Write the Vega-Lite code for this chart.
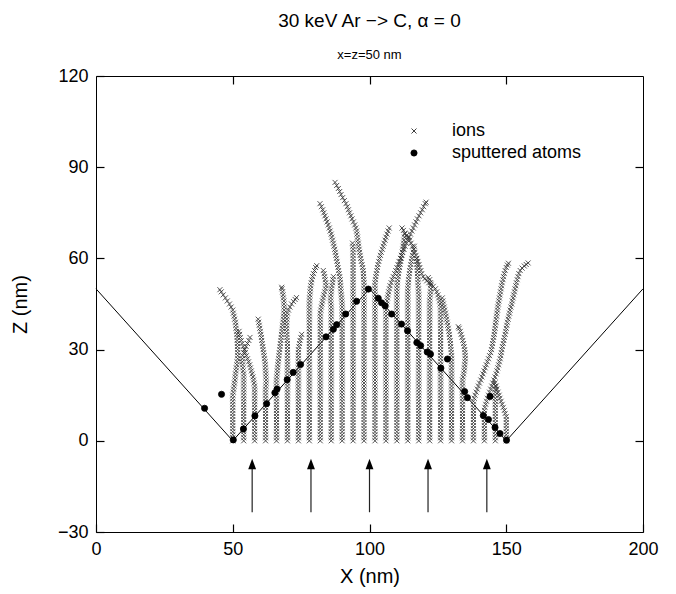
{
"$schema":"https://vega.github.io/schema/vega-lite/v6.json",
"width":547,"height":456,
"autosize":{"type":"none"},
"padding":{"left":96,"top":76,"right":33,"bottom":62},
"background":"white",
"config":{"view":{"stroke":"black","strokeWidth":1},"font":"Liberation Sans"},
"title":{"text":"30 keV Ar −> C, α = 0","subtitle":"x=z=50 nm","fontSize":19,"subtitleFontSize":13,"font":"Liberation Sans","subtitleFont":"Liberation Sans","fontWeight":"normal","color":"black","subtitleColor":"black","anchor":"middle","offset":5,"subtitlePadding":18},
"datasets":{
"surface":[{"x":0,"z":50},{"x":50,"z":0},{"x":100,"z":50},{"x":150,"z":0},{"x":200,"z":50}],
"arrows":[{"x":57.1,"z1":-23.5,"z2":-9,"zh":-7.6},{"x":78.6,"z1":-23.5,"z2":-9,"zh":-7.6},{"x":100,"z1":-23.5,"z2":-9,"zh":-7.6},{"x":121.4,"z1":-23.5,"z2":-9,"zh":-7.6},{"x":142.9,"z1":-23.5,"z2":-9,"zh":-7.6}],
"atoms":[{"x":39.7,"z":10.7},{"x":45.9,"z":15.3},{"x":50.2,"z":0.3},{"x":53.9,"z":3.9},{"x":58.1,"z":8.2},{"x":62.4,"z":12.2},{"x":65.4,"z":15.8},{"x":66.2,"z":17},{"x":69.9,"z":20.1},{"x":72.1,"z":22.5},{"x":74.8,"z":25.1},{"x":84.1,"z":34.2},{"x":86.8,"z":36.7},{"x":88,"z":38.2},{"x":91.3,"z":41.7},{"x":95.3,"z":45.9},{"x":99.6,"z":49.9},{"x":103.2,"z":46.9},{"x":104.4,"z":45.4},{"x":105.7,"z":44.4},{"x":108.1,"z":41.7},{"x":111.7,"z":38.4},{"x":113.9,"z":36.2},{"x":117.3,"z":32.3},{"x":118.7,"z":31.3},{"x":121.1,"z":29.2},{"x":122.3,"z":28.5},{"x":128.5,"z":26.9},{"x":126.1,"z":23.9},{"x":134.8,"z":16.2},{"x":135.8,"z":14.2},{"x":144.1,"z":14.6},{"x":141.6,"z":8.3},{"x":143.5,"z":7},{"x":145.9,"z":4.4},{"x":147.7,"z":2.4},{"x":150.1,"z":0.2}],
"ions":[
{"x":50,"z":0},{"x":50,"z":1},{"x":50,"z":2},{"x":50,"z":3},{"x":50,"z":4},{"x":50,"z":5},{"x":50,"z":6},{"x":50,"z":7},{"x":50,"z":8},{"x":50,"z":9},{"x":50,"z":10},{"x":50,"z":11},{"x":50,"z":12},{"x":50,"z":13},{"x":50,"z":14},{"x":50,"z":15},{"x":50.2,"z":16},{"x":50.3,"z":17},{"x":50.5,"z":18},{"x":50.6,"z":19},{"x":50.8,"z":20},{"x":50.9,"z":21},{"x":51,"z":22},{"x":51.2,"z":23},{"x":51.3,"z":24},{"x":51.5,"z":25},{"x":51.6,"z":26},{"x":51.8,"z":27},{"x":51.8,"z":28},{"x":51.8,"z":29},{"x":51.8,"z":30},{"x":51.7,"z":31},{"x":51.7,"z":32},{"x":51.6,"z":33},{"x":51.6,"z":34},{"x":51.5,"z":35},{"x":51.4,"z":36},{"x":51.2,"z":37},{"x":51.1,"z":38},{"x":51,"z":39},{"x":50.7,"z":40},{"x":50.5,"z":41},{"x":50.2,"z":42},{"x":50,"z":43},{"x":49.4,"z":44},{"x":48.8,"z":45},{"x":48,"z":46},{"x":47.3,"z":47},{"x":46.5,"z":48},{"x":45.8,"z":49},{"x":45.3,"z":49.7},
{"x":54,"z":0},{"x":54,"z":1},{"x":54,"z":2},{"x":54,"z":3},{"x":54,"z":4},{"x":54,"z":5},{"x":54,"z":6},{"x":54,"z":7},{"x":54,"z":8},{"x":54,"z":9},{"x":54,"z":10},{"x":54,"z":11},{"x":54,"z":12},{"x":54,"z":13},{"x":54,"z":14},{"x":54,"z":15},{"x":54,"z":16},{"x":54,"z":17},{"x":54,"z":18},{"x":54,"z":19},{"x":54,"z":20},{"x":54,"z":21},{"x":54,"z":22},{"x":53.8,"z":23},{"x":53.7,"z":24},{"x":53.6,"z":25},{"x":53.5,"z":26},{"x":53.5,"z":27},{"x":53.6,"z":28},{"x":54,"z":29},{"x":54.4,"z":30},{"x":54.9,"z":31},{"x":55.4,"z":32},{"x":55.9,"z":33},{"x":56.3,"z":34},
{"x":58,"z":0},{"x":58,"z":1},{"x":58,"z":2},{"x":58,"z":3},{"x":58,"z":4},{"x":58,"z":5},{"x":58,"z":6},{"x":58,"z":7},{"x":58,"z":8},{"x":58,"z":9},{"x":58,"z":10},{"x":58,"z":11},{"x":58,"z":12},{"x":58,"z":13},{"x":58,"z":14},{"x":58,"z":15},{"x":58,"z":16},{"x":58,"z":17},{"x":58,"z":18},{"x":57.8,"z":19},{"x":57.6,"z":20},{"x":57.4,"z":21},{"x":57.1,"z":22},{"x":56.8,"z":23},{"x":56.5,"z":24},{"x":56.2,"z":25},{"x":55.8,"z":26},{"x":55.4,"z":27},{"x":55,"z":28},{"x":54.6,"z":29},{"x":54.2,"z":30},{"x":53.8,"z":31},{"x":53.4,"z":32},{"x":53.1,"z":33},{"x":52.8,"z":34},{"x":52.5,"z":35},{"x":52.3,"z":36},
{"x":62,"z":0},{"x":62,"z":1},{"x":62,"z":2},{"x":62,"z":3},{"x":62,"z":4},{"x":62,"z":5},{"x":62,"z":6},{"x":62,"z":7},{"x":62,"z":8},{"x":62,"z":9},{"x":62,"z":10},{"x":62,"z":11},{"x":62,"z":12},{"x":62,"z":13},{"x":62,"z":14},{"x":62,"z":15},{"x":62,"z":16},{"x":62,"z":17},{"x":62.1,"z":18},{"x":62.2,"z":19},{"x":62.2,"z":20},{"x":62.1,"z":21},{"x":62.1,"z":22},{"x":62,"z":23},{"x":61.9,"z":24},{"x":61.9,"z":25},{"x":61.8,"z":26},{"x":61.6,"z":27},{"x":61.5,"z":28},{"x":61.3,"z":29},{"x":61.1,"z":30},{"x":61,"z":31},{"x":60.8,"z":32},{"x":60.6,"z":33},{"x":60.5,"z":34},{"x":60.3,"z":35},{"x":60.1,"z":36},{"x":59.9,"z":37},{"x":59.7,"z":38},{"x":59.5,"z":39},{"x":59.3,"z":40},
{"x":66,"z":0},{"x":66,"z":1},{"x":66,"z":2},{"x":66,"z":3},{"x":66,"z":4},{"x":66,"z":5},{"x":66,"z":6},{"x":66,"z":7},{"x":66,"z":8},{"x":66,"z":9},{"x":66,"z":10},{"x":66,"z":11},{"x":66,"z":12},{"x":66,"z":13},{"x":66,"z":14},{"x":66,"z":15},{"x":66,"z":16},{"x":66,"z":17},{"x":66,"z":18},{"x":66,"z":19},{"x":66,"z":20},{"x":66.1,"z":21},{"x":66.2,"z":22},{"x":66.3,"z":23},{"x":66.4,"z":24},{"x":66.5,"z":25},{"x":66.6,"z":26},{"x":66.8,"z":27},{"x":66.9,"z":28},{"x":67,"z":29},{"x":67.2,"z":30},{"x":67.3,"z":31},{"x":67.4,"z":32},{"x":67.6,"z":33},{"x":67.7,"z":34},{"x":67.8,"z":35},{"x":68,"z":36},{"x":68.1,"z":37},{"x":68.2,"z":38},{"x":68.4,"z":39},{"x":68.5,"z":40},{"x":68.6,"z":41},{"x":68.7,"z":42},{"x":68.8,"z":43},{"x":68.8,"z":44},{"x":68.7,"z":45},{"x":68.7,"z":46},{"x":68.5,"z":47},{"x":68.4,"z":48},{"x":68.2,"z":49},{"x":68,"z":50},{"x":67.9,"z":50.5},
{"x":70,"z":0},{"x":70,"z":1},{"x":70,"z":2},{"x":70,"z":3},{"x":70,"z":4},{"x":70,"z":5},{"x":70,"z":6},{"x":70,"z":7},{"x":70,"z":8},{"x":70,"z":9},{"x":70,"z":10},{"x":70,"z":11},{"x":70,"z":12},{"x":70,"z":13},{"x":70,"z":14},{"x":70,"z":15},{"x":70,"z":16},{"x":70,"z":17},{"x":70,"z":18},{"x":70,"z":19},{"x":70,"z":20},{"x":70,"z":21},{"x":70,"z":22},{"x":70,"z":23},{"x":70,"z":24},{"x":70,"z":25},{"x":70,"z":26},{"x":70,"z":27},{"x":70,"z":28},{"x":70,"z":29},{"x":70,"z":30},{"x":70,"z":31},{"x":70,"z":32},{"x":69.9,"z":33},{"x":69.8,"z":34},{"x":69.8,"z":35},{"x":69.7,"z":36},{"x":69.7,"z":37},{"x":69.7,"z":38},{"x":69.7,"z":39},{"x":69.8,"z":40},{"x":69.8,"z":41},{"x":70,"z":42},{"x":70.4,"z":43},{"x":70.9,"z":44},{"x":71.5,"z":45},{"x":72.2,"z":45.8},{"x":72.8,"z":46.5},{"x":73.3,"z":47.1},
{"x":74,"z":0},{"x":74,"z":1},{"x":74,"z":2},{"x":74,"z":3},{"x":74,"z":4},{"x":74,"z":5},{"x":74,"z":6},{"x":74,"z":7},{"x":74,"z":8},{"x":74,"z":9},{"x":74,"z":10},{"x":74,"z":11},{"x":74,"z":12},{"x":74,"z":13},{"x":74,"z":14},{"x":74,"z":15},{"x":74,"z":16},{"x":74,"z":17},{"x":74,"z":18},{"x":74,"z":19},{"x":74,"z":20},{"x":74,"z":21},{"x":74,"z":22},{"x":74,"z":23},{"x":74,"z":24},{"x":74,"z":25},{"x":74,"z":26},{"x":74,"z":27},{"x":74,"z":28},{"x":74,"z":29},{"x":74,"z":30},{"x":74.2,"z":31},{"x":74.4,"z":32},{"x":74.6,"z":33},{"x":74.9,"z":34},{"x":75.2,"z":35},
{"x":78,"z":0},{"x":78,"z":1},{"x":78,"z":2},{"x":78,"z":3},{"x":78,"z":4},{"x":78,"z":5},{"x":78,"z":6},{"x":78,"z":7},{"x":78,"z":8},{"x":78,"z":9},{"x":78,"z":10},{"x":78,"z":11},{"x":78,"z":12},{"x":78,"z":13},{"x":78,"z":14},{"x":78,"z":15},{"x":78,"z":16},{"x":78,"z":17},{"x":78,"z":18},{"x":78,"z":19},{"x":78,"z":20},{"x":78,"z":21},{"x":78,"z":22},{"x":78,"z":23},{"x":78,"z":24},{"x":78,"z":25},{"x":78,"z":26},{"x":78,"z":27},{"x":78,"z":28},{"x":78,"z":29},{"x":78,"z":30},{"x":78,"z":31},{"x":78,"z":32},{"x":78,"z":33},{"x":78,"z":34},{"x":78,"z":35},{"x":78,"z":36},{"x":78,"z":37},{"x":78,"z":38},{"x":78,"z":39},{"x":78,"z":40},{"x":78,"z":41},{"x":78,"z":42},{"x":78,"z":43},{"x":78,"z":44},{"x":78,"z":45},{"x":78.1,"z":46},{"x":78.1,"z":47},{"x":78.2,"z":48},{"x":78.3,"z":49},{"x":78.4,"z":50},{"x":78.5,"z":51},{"x":78.7,"z":52},{"x":78.9,"z":53},{"x":79.2,"z":54},{"x":79.5,"z":55},{"x":79.9,"z":56},{"x":80.3,"z":57},{"x":80.7,"z":57.6},
{"x":82,"z":0},{"x":82,"z":1},{"x":82,"z":2},{"x":82,"z":3},{"x":82,"z":4},{"x":82,"z":5},{"x":82,"z":6},{"x":82,"z":7},{"x":82,"z":8},{"x":82,"z":9},{"x":82,"z":10},{"x":82,"z":11},{"x":82,"z":12},{"x":82,"z":13},{"x":82,"z":14},{"x":82,"z":15},{"x":82,"z":16},{"x":82,"z":17},{"x":82,"z":18},{"x":82,"z":19},{"x":82,"z":20},{"x":82,"z":21},{"x":82,"z":22},{"x":82,"z":23},{"x":82,"z":24},{"x":82,"z":25},{"x":82,"z":26},{"x":82,"z":27},{"x":82,"z":28},{"x":82,"z":29},{"x":82,"z":30},{"x":82,"z":31},{"x":82,"z":32},{"x":82,"z":33},{"x":82,"z":34},{"x":82,"z":35},{"x":82,"z":36},{"x":82,"z":37},{"x":82,"z":38},{"x":82,"z":39},{"x":82,"z":40},{"x":82,"z":41},{"x":82,"z":42},{"x":82.2,"z":43},{"x":82.4,"z":44},{"x":82.6,"z":45},{"x":82.8,"z":46},{"x":83.1,"z":47},{"x":83.3,"z":48},{"x":83.6,"z":49},{"x":83.9,"z":50},{"x":84.1,"z":51},{"x":84,"z":52},{"x":83.8,"z":53},{"x":83.6,"z":54},{"x":83.4,"z":55},{"x":83.1,"z":56},
{"x":86,"z":0},{"x":86,"z":1},{"x":86,"z":2},{"x":86,"z":3},{"x":86,"z":4},{"x":86,"z":5},{"x":86,"z":6},{"x":86,"z":7},{"x":86,"z":8},{"x":86,"z":9},{"x":86,"z":10},{"x":86,"z":11},{"x":86,"z":12},{"x":86,"z":13},{"x":86,"z":14},{"x":86,"z":15},{"x":86,"z":16},{"x":86,"z":17},{"x":86,"z":18},{"x":86,"z":19},{"x":86,"z":20},{"x":86,"z":21},{"x":86,"z":22},{"x":86,"z":23},{"x":86,"z":24},{"x":86,"z":25},{"x":86,"z":26},{"x":86,"z":27},{"x":86,"z":28},{"x":86,"z":29},{"x":86,"z":30},{"x":86,"z":31},{"x":86,"z":32},{"x":86,"z":33},{"x":86,"z":34},{"x":86,"z":35},{"x":86,"z":36},{"x":86,"z":37},{"x":86,"z":38},{"x":86,"z":39},{"x":86,"z":40},{"x":86,"z":41},{"x":86,"z":42},{"x":86,"z":43},{"x":86,"z":44},{"x":85.9,"z":45},{"x":85.8,"z":46},{"x":85.8,"z":47},{"x":85.9,"z":48},{"x":86,"z":49},{"x":86.1,"z":50},{"x":86.3,"z":51},{"x":86.5,"z":52},{"x":86.6,"z":53},{"x":86.8,"z":54},
{"x":90,"z":0},{"x":90,"z":1},{"x":90,"z":2},{"x":90,"z":3},{"x":90,"z":4},{"x":90,"z":5},{"x":90,"z":6},{"x":90,"z":7},{"x":90,"z":8},{"x":90,"z":9},{"x":90,"z":10},{"x":90,"z":11},{"x":90,"z":12},{"x":90,"z":13},{"x":90,"z":14},{"x":90,"z":15},{"x":90,"z":16},{"x":90,"z":17},{"x":90,"z":18},{"x":90,"z":19},{"x":90,"z":20},{"x":90,"z":21},{"x":90,"z":22},{"x":90,"z":23},{"x":90,"z":24},{"x":90,"z":25},{"x":90,"z":26},{"x":90,"z":27},{"x":90,"z":28},{"x":90,"z":29},{"x":90,"z":30},{"x":90,"z":31},{"x":90,"z":32},{"x":90,"z":33},{"x":90,"z":34},{"x":90,"z":35},{"x":90,"z":36},{"x":90,"z":37},{"x":90,"z":38},{"x":90,"z":39},{"x":90,"z":40},{"x":90,"z":41},{"x":90,"z":42},{"x":90,"z":43},{"x":90,"z":44},{"x":90,"z":45},{"x":89.9,"z":46},{"x":89.8,"z":47},{"x":89.7,"z":48},{"x":89.6,"z":49},{"x":89.5,"z":50},{"x":89.4,"z":51},{"x":89.3,"z":52},{"x":89.3,"z":53},{"x":89.1,"z":54},{"x":88.9,"z":55},{"x":88.7,"z":56},{"x":88.5,"z":57},{"x":88.3,"z":58},{"x":88.1,"z":59},{"x":87.9,"z":60},{"x":87.7,"z":61},{"x":87.5,"z":62},{"x":87.3,"z":63},{"x":87,"z":64},{"x":86.8,"z":65},{"x":86.5,"z":66},{"x":86.2,"z":67},{"x":86,"z":68},{"x":85.6,"z":69},{"x":85.3,"z":70},{"x":84.9,"z":71},{"x":84.5,"z":72},{"x":84.1,"z":73},{"x":83.7,"z":74},{"x":83.3,"z":75},{"x":82.9,"z":76},{"x":82.4,"z":77},{"x":81.9,"z":78},
{"x":94,"z":0},{"x":94,"z":1},{"x":94,"z":2},{"x":94,"z":3},{"x":94,"z":4},{"x":94,"z":5},{"x":94,"z":6},{"x":94,"z":7},{"x":94,"z":8},{"x":94,"z":9},{"x":94,"z":10},{"x":94,"z":11},{"x":94,"z":12},{"x":94,"z":13},{"x":94,"z":14},{"x":94,"z":15},{"x":94,"z":16},{"x":94,"z":17},{"x":94,"z":18},{"x":94,"z":19},{"x":94,"z":20},{"x":94,"z":21},{"x":94,"z":22},{"x":94,"z":23},{"x":94,"z":24},{"x":94,"z":25},{"x":94,"z":26},{"x":94,"z":27},{"x":94,"z":28},{"x":94,"z":29},{"x":94,"z":30},{"x":94,"z":31},{"x":94,"z":32},{"x":94,"z":33},{"x":94,"z":34},{"x":94,"z":35},{"x":94,"z":36},{"x":94,"z":37},{"x":94,"z":38},{"x":94,"z":39},{"x":94,"z":40},{"x":94,"z":41},{"x":94,"z":42},{"x":94,"z":43},{"x":94,"z":44},{"x":94,"z":45},{"x":94,"z":46},{"x":94,"z":47},{"x":94,"z":48},{"x":94,"z":49},{"x":94,"z":50},{"x":94,"z":51},{"x":94,"z":52},{"x":94,"z":53},{"x":94,"z":54},{"x":94,"z":55},{"x":94,"z":56},{"x":94,"z":57},{"x":94,"z":58},{"x":94,"z":59},{"x":94,"z":60},{"x":94,"z":61},{"x":94,"z":62},{"x":94,"z":63},{"x":93.9,"z":64},{"x":93.8,"z":65},
{"x":98,"z":0},{"x":98,"z":1},{"x":98,"z":2},{"x":98,"z":3},{"x":98,"z":4},{"x":98,"z":5},{"x":98,"z":6},{"x":98,"z":7},{"x":98,"z":8},{"x":98,"z":9},{"x":98,"z":10},{"x":98,"z":11},{"x":98,"z":12},{"x":98,"z":13},{"x":98,"z":14},{"x":98,"z":15},{"x":98,"z":16},{"x":98,"z":17},{"x":98,"z":18},{"x":98,"z":19},{"x":98,"z":20},{"x":98,"z":21},{"x":98,"z":22},{"x":98,"z":23},{"x":98,"z":24},{"x":98,"z":25},{"x":98,"z":26},{"x":98,"z":27},{"x":98,"z":28},{"x":98,"z":29},{"x":98,"z":30},{"x":98,"z":31},{"x":98,"z":32},{"x":98,"z":33},{"x":98,"z":34},{"x":98,"z":35},{"x":98,"z":36},{"x":98,"z":37},{"x":98,"z":38},{"x":98,"z":39},{"x":98,"z":40},{"x":98,"z":41},{"x":98,"z":42},{"x":98,"z":43},{"x":98,"z":44},{"x":98,"z":45},{"x":98,"z":46},{"x":98,"z":47},{"x":98,"z":48},{"x":98,"z":49},{"x":98,"z":50},{"x":98,"z":51},{"x":98,"z":52},{"x":97.9,"z":53},{"x":97.8,"z":54},{"x":97.8,"z":55},{"x":97.7,"z":56},{"x":97.5,"z":57},{"x":97.3,"z":58},{"x":97,"z":59},{"x":96.8,"z":60},{"x":96.6,"z":61},{"x":96.4,"z":62},{"x":96.2,"z":63},{"x":96,"z":64},{"x":95.9,"z":65},{"x":95.7,"z":66},{"x":95.6,"z":67},{"x":95.4,"z":68},{"x":95.3,"z":69},{"x":95,"z":70},{"x":94.6,"z":71},{"x":94.1,"z":72},{"x":93.6,"z":73},{"x":93.2,"z":74},{"x":92.7,"z":75},{"x":92.3,"z":76},{"x":91.9,"z":77},{"x":91.4,"z":78},{"x":90.8,"z":79},{"x":90.2,"z":80},{"x":89.6,"z":81},{"x":89.1,"z":82},{"x":88.6,"z":83},{"x":88,"z":84},{"x":87.4,"z":85},
{"x":102,"z":0},{"x":102,"z":1},{"x":102,"z":2},{"x":102,"z":3},{"x":102,"z":4},{"x":102,"z":5},{"x":102,"z":6},{"x":102,"z":7},{"x":102,"z":8},{"x":102,"z":9},{"x":102,"z":10},{"x":102,"z":11},{"x":102,"z":12},{"x":102,"z":13},{"x":102,"z":14},{"x":102,"z":15},{"x":102,"z":16},{"x":102,"z":17},{"x":102,"z":18},{"x":102,"z":19},{"x":102,"z":20},{"x":102,"z":21},{"x":102,"z":22},{"x":102,"z":23},{"x":102,"z":24},{"x":102,"z":25},{"x":102,"z":26},{"x":102,"z":27},{"x":102,"z":28},{"x":102,"z":29},{"x":102,"z":30},{"x":102,"z":31},{"x":102,"z":32},{"x":102,"z":33},{"x":102,"z":34},{"x":102,"z":35},{"x":102,"z":36},{"x":102,"z":37},{"x":102,"z":38},{"x":102,"z":39},{"x":102,"z":40},{"x":102,"z":41},{"x":102,"z":42},{"x":102,"z":43},{"x":102,"z":44},{"x":102,"z":45},{"x":102,"z":46},{"x":102,"z":47},{"x":102,"z":48},{"x":102,"z":49},{"x":102,"z":50},{"x":102,"z":51},{"x":102,"z":52},{"x":102.2,"z":53},{"x":102.3,"z":54},{"x":102.5,"z":55},{"x":102.7,"z":56},{"x":102.9,"z":57},{"x":103.1,"z":58},{"x":103.4,"z":59},{"x":103.7,"z":60},{"x":104,"z":61},{"x":104.3,"z":62},{"x":104.7,"z":63},{"x":105,"z":64},{"x":105.3,"z":65},{"x":105.7,"z":66},{"x":106,"z":67},{"x":106.4,"z":68},{"x":106.8,"z":69},{"x":107.2,"z":70},
{"x":106,"z":0},{"x":106,"z":1},{"x":106,"z":2},{"x":106,"z":3},{"x":106,"z":4},{"x":106,"z":5},{"x":106,"z":6},{"x":106,"z":7},{"x":106,"z":8},{"x":106,"z":9},{"x":106,"z":10},{"x":106,"z":11},{"x":106,"z":12},{"x":106,"z":13},{"x":106,"z":14},{"x":106,"z":15},{"x":106,"z":16},{"x":106,"z":17},{"x":106,"z":18},{"x":106,"z":19},{"x":106,"z":20},{"x":106,"z":21},{"x":106,"z":22},{"x":106,"z":23},{"x":106,"z":24},{"x":106,"z":25},{"x":106,"z":26},{"x":106,"z":27},{"x":106,"z":28},{"x":106,"z":29},{"x":106,"z":30},{"x":106,"z":31},{"x":106,"z":32},{"x":106,"z":33},{"x":106,"z":34},{"x":106,"z":35},{"x":106,"z":36},{"x":106,"z":37},{"x":106,"z":38},{"x":106,"z":39},{"x":106,"z":40},{"x":106,"z":41},{"x":106,"z":42},{"x":106,"z":43},{"x":106,"z":44},{"x":106.2,"z":45},{"x":106.4,"z":46},{"x":106.6,"z":47},{"x":106.8,"z":48},{"x":107,"z":49},{"x":107.3,"z":50},{"x":107.5,"z":51},{"x":107.9,"z":52},{"x":108.3,"z":53},{"x":108.7,"z":54},{"x":109.2,"z":55},{"x":109.6,"z":56},{"x":110,"z":57},{"x":110.4,"z":58},{"x":110.8,"z":59},{"x":111.3,"z":60},{"x":111.7,"z":61},{"x":112.1,"z":62},{"x":112.6,"z":63},{"x":113,"z":64},{"x":113.5,"z":65},{"x":114,"z":66},{"x":114.5,"z":67},{"x":115,"z":68},{"x":115.5,"z":69},{"x":116,"z":70},{"x":116.5,"z":71},{"x":117,"z":72},{"x":117.5,"z":73},{"x":118.1,"z":74},{"x":118.7,"z":75},{"x":119.3,"z":76},{"x":119.8,"z":77},{"x":120.4,"z":78},{"x":120.7,"z":78.5},
{"x":110,"z":0},{"x":110,"z":1},{"x":110,"z":2},{"x":110,"z":3},{"x":110,"z":4},{"x":110,"z":5},{"x":110,"z":6},{"x":110,"z":7},{"x":110,"z":8},{"x":110,"z":9},{"x":110,"z":10},{"x":110,"z":11},{"x":110,"z":12},{"x":110,"z":13},{"x":110,"z":14},{"x":110,"z":15},{"x":110,"z":16},{"x":110,"z":17},{"x":110,"z":18},{"x":110,"z":19},{"x":110,"z":20},{"x":110,"z":21},{"x":110,"z":22},{"x":110,"z":23},{"x":110,"z":24},{"x":110,"z":25},{"x":110,"z":26},{"x":110,"z":27},{"x":110,"z":28},{"x":110,"z":29},{"x":110,"z":30},{"x":110,"z":31},{"x":110,"z":32},{"x":110,"z":33},{"x":110,"z":34},{"x":110,"z":35},{"x":110,"z":36},{"x":110,"z":37},{"x":110,"z":38},{"x":110,"z":39},{"x":110,"z":40},{"x":110,"z":41},{"x":110,"z":42},{"x":110,"z":43},{"x":110,"z":44},{"x":110,"z":45},{"x":110,"z":46},{"x":110,"z":47},{"x":110,"z":48},{"x":110,"z":49},{"x":110,"z":50},{"x":110.1,"z":51},{"x":110.2,"z":52},{"x":110.3,"z":53},{"x":110.5,"z":54},{"x":110.6,"z":55},{"x":110.8,"z":56},{"x":111,"z":57},{"x":111.2,"z":58},{"x":111.4,"z":59},{"x":111.6,"z":60},{"x":111.8,"z":61},{"x":112,"z":62},{"x":112.2,"z":63},{"x":112.3,"z":64},{"x":112.5,"z":65},{"x":112.6,"z":66},{"x":112.8,"z":67},{"x":112.9,"z":68},
{"x":114,"z":0},{"x":114,"z":1},{"x":114,"z":2},{"x":114,"z":3},{"x":114,"z":4},{"x":114,"z":5},{"x":114,"z":6},{"x":114,"z":7},{"x":114,"z":8},{"x":114,"z":9},{"x":114,"z":10},{"x":114,"z":11},{"x":114,"z":12},{"x":114,"z":13},{"x":114,"z":14},{"x":114,"z":15},{"x":114,"z":16},{"x":114,"z":17},{"x":114,"z":18},{"x":114,"z":19},{"x":114,"z":20},{"x":114,"z":21},{"x":114,"z":22},{"x":114,"z":23},{"x":114,"z":24},{"x":114,"z":25},{"x":114,"z":26},{"x":114,"z":27},{"x":114,"z":28},{"x":114,"z":29},{"x":114,"z":30},{"x":114,"z":31},{"x":114,"z":32},{"x":114,"z":33},{"x":114,"z":34},{"x":114,"z":35},{"x":114,"z":36},{"x":114,"z":37},{"x":114,"z":38},{"x":114,"z":39},{"x":114,"z":40},{"x":114,"z":41},{"x":114,"z":42},{"x":114,"z":43},{"x":114,"z":44},{"x":114,"z":45},{"x":114,"z":46},{"x":114,"z":47},{"x":114,"z":48},{"x":114,"z":49},{"x":114,"z":50},{"x":114.1,"z":51},{"x":114.2,"z":52},{"x":114.3,"z":53},{"x":114.4,"z":54},{"x":114.6,"z":55},{"x":114.7,"z":56},{"x":114.9,"z":57},{"x":115.1,"z":58},{"x":115.3,"z":59},{"x":115.5,"z":60},{"x":115.7,"z":61},{"x":116,"z":62},{"x":116.2,"z":63},{"x":116.4,"z":64},
{"x":118,"z":0},{"x":118,"z":1},{"x":118,"z":2},{"x":118,"z":3},{"x":118,"z":4},{"x":118,"z":5},{"x":118,"z":6},{"x":118,"z":7},{"x":118,"z":8},{"x":118,"z":9},{"x":118,"z":10},{"x":118,"z":11},{"x":118,"z":12},{"x":118,"z":13},{"x":118,"z":14},{"x":118,"z":15},{"x":118,"z":16},{"x":118,"z":17},{"x":118,"z":18},{"x":118,"z":19},{"x":118,"z":20},{"x":118,"z":21},{"x":118,"z":22},{"x":118,"z":23},{"x":118,"z":24},{"x":118,"z":25},{"x":118,"z":26},{"x":118,"z":27},{"x":118,"z":28},{"x":118,"z":29},{"x":118,"z":30},{"x":118,"z":31},{"x":118,"z":32},{"x":118,"z":33},{"x":118,"z":34},{"x":118,"z":35},{"x":118,"z":36},{"x":118,"z":37},{"x":118,"z":38},{"x":118,"z":39},{"x":118,"z":40},{"x":118,"z":41},{"x":118,"z":42},{"x":118,"z":43},{"x":118,"z":44},{"x":118,"z":45},{"x":118,"z":46},{"x":118,"z":47},{"x":118,"z":48},{"x":117.9,"z":49},{"x":117.9,"z":50},{"x":117.8,"z":51},{"x":117.7,"z":52},{"x":117.7,"z":53},{"x":117.6,"z":54},{"x":117.5,"z":55},{"x":117.5,"z":56},{"x":117.4,"z":57},{"x":117.3,"z":58},{"x":117.3,"z":59},{"x":117.2,"z":60},
{"x":122,"z":0},{"x":122,"z":1},{"x":122,"z":2},{"x":122,"z":3},{"x":122,"z":4},{"x":122,"z":5},{"x":122,"z":6},{"x":122,"z":7},{"x":122,"z":8},{"x":122,"z":9},{"x":122,"z":10},{"x":122,"z":11},{"x":122,"z":12},{"x":122,"z":13},{"x":122,"z":14},{"x":122,"z":15},{"x":122,"z":16},{"x":122,"z":17},{"x":122,"z":18},{"x":122,"z":19},{"x":122,"z":20},{"x":122,"z":21},{"x":122,"z":22},{"x":122,"z":23},{"x":122,"z":24},{"x":122,"z":25},{"x":122,"z":26},{"x":122,"z":27},{"x":122,"z":28},{"x":122,"z":29},{"x":122,"z":30},{"x":122,"z":31},{"x":122,"z":32},{"x":122,"z":33},{"x":122,"z":34},{"x":122,"z":35},{"x":122,"z":36},{"x":122,"z":37},{"x":122,"z":38},{"x":122,"z":39},{"x":122,"z":40},{"x":122,"z":41},{"x":122,"z":42},{"x":122,"z":43},{"x":122,"z":44},{"x":122,"z":45},{"x":122,"z":46},{"x":122.1,"z":47},{"x":122.2,"z":48},{"x":122.3,"z":49},{"x":122.4,"z":50},{"x":122.4,"z":51},{"x":122.3,"z":52},{"x":122,"z":53},{"x":121.5,"z":53.7},
{"x":126,"z":0},{"x":126,"z":1},{"x":126,"z":2},{"x":126,"z":3},{"x":126,"z":4},{"x":126,"z":5},{"x":126,"z":6},{"x":126,"z":7},{"x":126,"z":8},{"x":126,"z":9},{"x":126,"z":10},{"x":126,"z":11},{"x":126,"z":12},{"x":126,"z":13},{"x":126,"z":14},{"x":126,"z":15},{"x":126,"z":16},{"x":126,"z":17},{"x":126,"z":18},{"x":126,"z":19},{"x":126,"z":20},{"x":126,"z":21},{"x":126,"z":22},{"x":126,"z":23},{"x":126,"z":24},{"x":126,"z":25},{"x":126,"z":26},{"x":126,"z":27},{"x":126,"z":28},{"x":126,"z":29},{"x":126,"z":30},{"x":126,"z":31},{"x":126,"z":32},{"x":126,"z":33},{"x":126,"z":34},{"x":126,"z":35},{"x":126,"z":36},{"x":126,"z":37},{"x":126,"z":38},{"x":126,"z":39},{"x":126,"z":40},{"x":126,"z":41},{"x":126,"z":42},{"x":126,"z":43},{"x":126,"z":44},{"x":125.8,"z":45},{"x":125.6,"z":46},{"x":125.3,"z":47},{"x":125,"z":48},{"x":124.6,"z":49},{"x":124.1,"z":50},{"x":123.3,"z":50.8},{"x":122.5,"z":51.5},{"x":121.7,"z":52},{"x":120.9,"z":52.6},{"x":120.2,"z":53.3},{"x":119.6,"z":54},{"x":119.1,"z":55},{"x":118.8,"z":56},{"x":118.4,"z":57},{"x":118.1,"z":58},{"x":117.7,"z":59},{"x":117.3,"z":60},{"x":117,"z":61},{"x":116.6,"z":62},{"x":116.2,"z":63},{"x":115.7,"z":64},{"x":115.2,"z":65},{"x":114.7,"z":66},{"x":114.1,"z":66.8},{"x":113.5,"z":67.5},{"x":112.9,"z":68.3},{"x":112.4,"z":69.2},{"x":111.9,"z":70},
{"x":130,"z":0},{"x":130,"z":1},{"x":130,"z":2},{"x":130,"z":3},{"x":130,"z":4},{"x":130,"z":5},{"x":130,"z":6},{"x":130,"z":7},{"x":130,"z":8},{"x":130,"z":9},{"x":130,"z":10},{"x":130,"z":11},{"x":130,"z":12},{"x":130,"z":13},{"x":130,"z":14},{"x":130,"z":15},{"x":130,"z":16},{"x":130,"z":17},{"x":130,"z":18},{"x":130,"z":19},{"x":130,"z":20},{"x":130,"z":21},{"x":130,"z":22},{"x":130,"z":23},{"x":130,"z":24},{"x":130,"z":25},{"x":130,"z":26},{"x":130,"z":27},{"x":130,"z":28},{"x":129.9,"z":29},{"x":129.8,"z":30},{"x":129.7,"z":31},{"x":129.6,"z":32},{"x":129.5,"z":33},{"x":129.3,"z":34},{"x":129.2,"z":35},{"x":129,"z":36},{"x":128.8,"z":37},{"x":128.6,"z":38},{"x":128.4,"z":39},{"x":128.2,"z":40},{"x":128,"z":41},{"x":127.8,"z":42},{"x":127.5,"z":43},{"x":127.3,"z":44},{"x":127,"z":45},{"x":126.8,"z":46},{"x":126.6,"z":47},
{"x":134,"z":0},{"x":134,"z":1},{"x":134,"z":2},{"x":134,"z":3},{"x":134,"z":4},{"x":134,"z":5},{"x":134,"z":6},{"x":134,"z":7},{"x":134,"z":8},{"x":134,"z":9},{"x":134,"z":10},{"x":134,"z":11},{"x":134,"z":12},{"x":134,"z":13},{"x":134,"z":14},{"x":134,"z":15},{"x":134,"z":16},{"x":134,"z":17},{"x":134,"z":18},{"x":134,"z":19},{"x":134,"z":20},{"x":134.2,"z":21},{"x":134.4,"z":22},{"x":134.6,"z":23},{"x":134.7,"z":24},{"x":134.8,"z":25},{"x":134.9,"z":26},{"x":135,"z":27},{"x":135,"z":28},{"x":134.9,"z":29},{"x":134.8,"z":30},{"x":134.6,"z":31},{"x":134.4,"z":32},{"x":134.1,"z":33},{"x":133.8,"z":34},{"x":133.5,"z":35},{"x":133.2,"z":36},{"x":132.8,"z":37},{"x":132.5,"z":37.5},
{"x":138,"z":0},{"x":138,"z":1},{"x":138,"z":2},{"x":138,"z":3},{"x":138,"z":4},{"x":138,"z":5},{"x":138,"z":6},{"x":138,"z":7},{"x":138,"z":8},{"x":138,"z":9},{"x":138,"z":10},{"x":138,"z":11},{"x":138,"z":12},{"x":138,"z":13},{"x":138.3,"z":14},{"x":138.6,"z":15},{"x":139,"z":16},{"x":139.4,"z":17},{"x":139.8,"z":18},{"x":140.2,"z":19},{"x":140.7,"z":20},{"x":141.1,"z":21},{"x":141.5,"z":22},{"x":141.9,"z":23},{"x":142.3,"z":24},{"x":142.7,"z":25},{"x":143.1,"z":26},{"x":143.5,"z":27},{"x":143.9,"z":28},{"x":144.3,"z":29},{"x":144.6,"z":30},{"x":144.8,"z":31},{"x":145,"z":32},{"x":145.2,"z":33},{"x":145.4,"z":34},{"x":145.6,"z":35},{"x":145.7,"z":36},{"x":145.9,"z":37},{"x":146,"z":38},{"x":146.2,"z":39},{"x":146.3,"z":40},{"x":146.5,"z":41},{"x":146.6,"z":42},{"x":146.8,"z":43},{"x":146.9,"z":44},{"x":147.1,"z":45},{"x":147.3,"z":46},{"x":147.5,"z":47},{"x":147.7,"z":48},{"x":147.9,"z":49},{"x":148.1,"z":50},{"x":148.3,"z":51},{"x":148.5,"z":52},{"x":148.8,"z":53},{"x":149,"z":54},{"x":149.3,"z":55},{"x":149.6,"z":56},{"x":150,"z":57},{"x":150.4,"z":57.8},{"x":150.8,"z":58.4},
{"x":142,"z":0},{"x":142,"z":1},{"x":142,"z":2},{"x":142,"z":3},{"x":142,"z":4},{"x":142,"z":5},{"x":142,"z":6},{"x":142,"z":7},{"x":142,"z":8},{"x":142,"z":9},{"x":142,"z":10},{"x":142.2,"z":11},{"x":142.5,"z":12},{"x":142.8,"z":13},{"x":143.1,"z":14},{"x":143.5,"z":15},{"x":143.9,"z":16},{"x":144.3,"z":17},{"x":144.7,"z":18},{"x":145.1,"z":19},{"x":145.5,"z":20},{"x":145.9,"z":21},{"x":146.3,"z":22},{"x":146.6,"z":23},{"x":146.9,"z":24},{"x":147.2,"z":25},{"x":147.5,"z":26},{"x":147.8,"z":27},{"x":148,"z":28},{"x":148.2,"z":29},{"x":148.4,"z":30},{"x":148.6,"z":31},{"x":148.9,"z":32},{"x":149.1,"z":33},{"x":149.3,"z":34},{"x":149.6,"z":35},{"x":149.8,"z":36},{"x":150,"z":37},{"x":150.2,"z":38},{"x":150.4,"z":39},{"x":150.7,"z":40},{"x":150.9,"z":41},{"x":151.2,"z":42},{"x":151.4,"z":43},{"x":151.7,"z":44},{"x":152,"z":45},{"x":152.2,"z":46},{"x":152.5,"z":47},{"x":152.7,"z":48},{"x":153,"z":49},{"x":153.2,"z":50},{"x":153.5,"z":51},{"x":153.7,"z":52},{"x":154,"z":53},{"x":154.3,"z":54},{"x":154.6,"z":55},{"x":155.1,"z":56},{"x":155.8,"z":56.8},{"x":156.6,"z":57.5},{"x":157.3,"z":58},{"x":158,"z":58.5},
{"x":146,"z":0},{"x":146,"z":1},{"x":146,"z":2},{"x":146,"z":3},{"x":146,"z":4},{"x":146,"z":5},{"x":146,"z":6},{"x":146,"z":7},{"x":146,"z":8},{"x":146,"z":9},{"x":146,"z":10},{"x":146,"z":11},{"x":146,"z":12},{"x":146,"z":13},{"x":146,"z":14},{"x":146,"z":15},{"x":146,"z":16},{"x":146,"z":17},{"x":146,"z":18},
{"x":150,"z":0},{"x":150,"z":1},{"x":150,"z":2},{"x":150,"z":3},{"x":150,"z":4},{"x":150,"z":5},{"x":150,"z":6},{"x":150,"z":7},{"x":150,"z":8},{"x":149.6,"z":9},{"x":149.3,"z":10},{"x":148.9,"z":11},{"x":148.5,"z":12},{"x":148.1,"z":13},{"x":147.7,"z":14},{"x":147.4,"z":15},{"x":147,"z":16},{"x":146.6,"z":17},{"x":146.3,"z":18},{"x":145.9,"z":19}
]},
"layer":[
{"data":{"name":"surface"},"mark":{"type":"line","color":"black","strokeWidth":1},
 "encoding":{
  "x":{"field":"x","type":"quantitative","scale":{"domain":[0,200],"nice":false,"zero":false},
   "axis":{"orient":"bottom","offset":-8,"zindex":1,"values":[0,50,100,150,200],"title":"X (nm)","ticks":true,"tickSize":8,"tickColor":"black","tickWidth":1.2,"labelPadding":8,"domain":false,"grid":false,"labelFontSize":18,"titleFontSize":20,"titleFontWeight":"normal","labelColor":"black","titleColor":"black","labelFont":"Liberation Sans","titleFont":"Liberation Sans","titlePadding":8,"labelFlush":false,"labelOverlap":false}},
  "y":{"field":"z","type":"quantitative","scale":{"domain":[-30,120],"nice":false,"zero":false},
   "axis":{"orient":"left","offset":-8,"zindex":1,"values":[-30,0,30,60,90,120],"title":"Z (nm)","ticks":true,"tickSize":8,"tickColor":"black","tickWidth":1.2,"labelPadding":8,"domain":false,"grid":false,"labelFontSize":18,"titleFontSize":20,"titleFontWeight":"normal","labelColor":"black","titleColor":"black","labelFont":"Liberation Sans","titleFont":"Liberation Sans","titlePadding":27,"labelFlush":false,"labelOverlap":false}}
 }},
{"data":{"name":"arrows"},"mark":{"type":"rule","color":"#222","strokeWidth":1.2},
 "encoding":{"x":{"field":"x","type":"quantitative","axis":null},"y":{"field":"z1","type":"quantitative","axis":null},"y2":{"field":"z2"}}},
{"data":{"name":"arrows"},"mark":{"type":"point","shape":"M0,-1L0.75,1L-0.75,1Z","filled":true,"color":"black","size":110,"opacity":1},
 "encoding":{"x":{"field":"x","type":"quantitative","axis":null},"y":{"field":"zh","type":"quantitative","axis":null}}},
{"data":{"name":"ions"},"mark":{"type":"point","opacity":1,"strokeWidth":0.8},
 "encoding":{
  "x":{"field":"x","type":"quantitative","axis":{"orient":"top","offset":-8,"zindex":1,"values":[50,100,150],"labels":false,"title":null,"ticks":true,"tickSize":8,"tickColor":"black","tickWidth":1.2,"domain":false,"grid":false}},
  "y":{"field":"z","type":"quantitative","axis":{"orient":"right","offset":-8,"zindex":1,"values":[0,30,60,90],"labels":false,"title":null,"ticks":true,"tickSize":8,"tickColor":"black","tickWidth":1.2,"domain":false,"grid":false}},
  "shape":{"datum":"ions","type":"nominal","scale":{"domain":["ions","sputtered atoms"],"range":["M-1,-1L1,1M-1,1L1,-1","circle"]},"legend":{"title":null,"orient":"none","legendX":309,"legendY":46,"labelFontSize":18,"labelFont":"Liberation Sans","labelColor":"black","labelOffset":29,"rowPadding":4,"padding":0,"symbolStrokeWidth":0.9}},
  "fill":{"datum":"ions","type":"nominal","scale":{"domain":["ions","sputtered atoms"],"range":["transparent","black"]},"legend":{"title":null}},
  "stroke":{"datum":"ions","type":"nominal","scale":{"domain":["ions","sputtered atoms"],"range":["#2a2a2a","black"]},"legend":{"title":null}},
  "size":{"datum":"ions","type":"nominal","scale":{"domain":["ions","sputtered atoms"],"range":[25,38]},"legend":{"title":null}}
 }},
{"data":{"name":"atoms"},"mark":{"type":"point","opacity":1,"strokeWidth":0.8},
 "encoding":{
  "x":{"field":"x","type":"quantitative","axis":null},
  "y":{"field":"z","type":"quantitative","axis":null},
  "shape":{"datum":"sputtered atoms","type":"nominal"},
  "fill":{"datum":"sputtered atoms","type":"nominal"},
  "stroke":{"datum":"sputtered atoms","type":"nominal"},
  "size":{"datum":"sputtered atoms","type":"nominal"}
 }}
]
}
